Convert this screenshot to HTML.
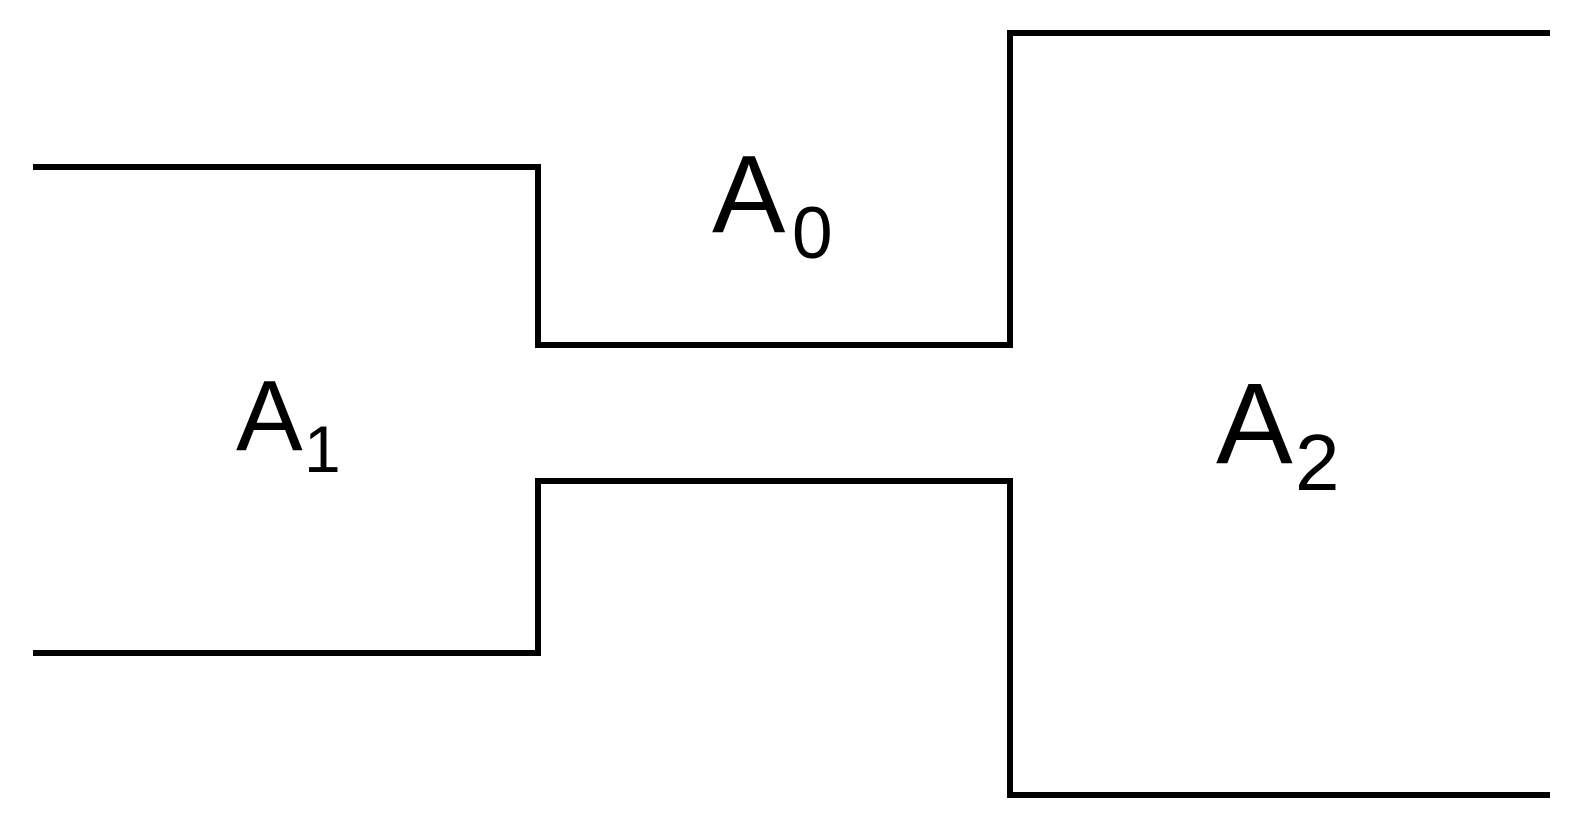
<!DOCTYPE html>
<html><head><meta charset="utf-8"><style>
html,body{margin:0;padding:0;background:#fff;}
svg{display:block;}
text{font-family:"Liberation Sans",Arial,sans-serif;fill:#000;}
</style></head><body>
<svg width="1588" height="831" viewBox="0 0 1588 831" xmlns="http://www.w3.org/2000/svg">
<g fill="none" stroke="#000" stroke-width="6" stroke-linecap="square">
<polyline points="36,167 538,167 538,345 1010,345 1010,33 1547,33"/>
<polyline points="36,653 538,653 538,481 1010,481 1010,795 1547,795"/>
</g>
<text x="712" y="232" font-size="110">A</text>
<text x="792" y="258" font-size="73">0</text>
<text x="236" y="450" font-size="100">A</text>
<text x="304" y="472" font-size="66">1</text>
<text x="1216" y="463" font-size="115">A</text>
<text x="1295" y="490" font-size="80">2</text>
</svg>
</body></html>
